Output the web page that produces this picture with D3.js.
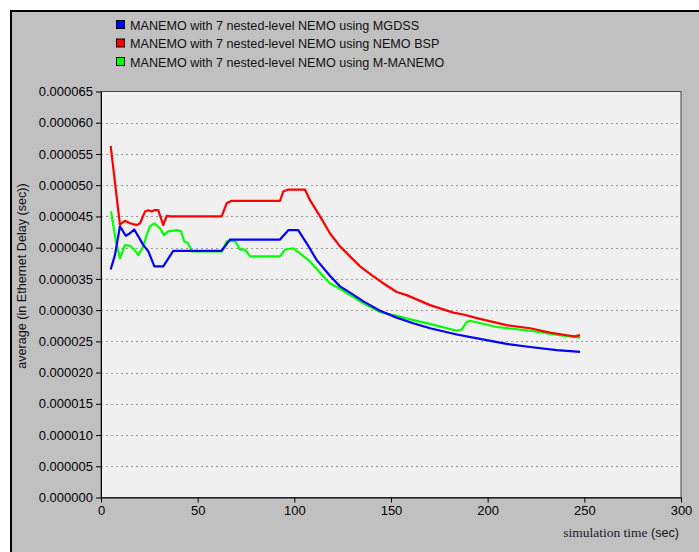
<!DOCTYPE html>
<html>
<head>
<meta charset="utf-8">
<script src="https://cdn.jsdelivr.net/npm/d3@7"></script>
<style>
  body { margin: 0; background: #ffffff; }
  svg { display: block; font-family: "Liberation Sans", Arial, sans-serif; }
</style>
</head>
<body>
<svg id="chart" width="699" height="552"></svg>
<script>
// series labels
const seriesNames = [
    'MANEMO with 7 nested-level NEMO using MGDSS',
    'MANEMO with 7 nested-level NEMO using NEMO BSP',
    'MANEMO with 7 nested-level NEMO using M-MANEMO'
];
const seriesColors = ['#0000ff', '#ff0000', '#00ff00'];

// simulation time (sec) and average delay (microseconds)
const mgdssTime = [5, 7.2, 9.8, 12.8, 15, 17.2, 19.3, 21.9, 24.5, 27.6, 32.2, 37.4, 62.4, 66.7, 92.6, 96.9, 102, 106.4, 111.6, 118.4, 123.6, 128.8, 135.7, 144.3, 152.9, 161.5, 170.2, 184, 196, 209.8, 221.9, 235.7, 247.8];
const mgdssDelay = [36.5, 38.8, 43.4, 41.9, 42.3, 42.9, 41.8, 40.4, 39.4, 37.0, 37.0, 39.5, 39.5, 41.3, 41.3, 42.8, 42.8, 40.7, 38.0, 35.5, 33.8, 32.8, 31.4, 29.9, 28.8, 27.9, 27.1, 26.1, 25.4, 24.6, 24.1, 23.6, 23.3];

const bspTime = [5, 9.8, 12.4, 15, 18.5, 20.2, 22.8, 24.5, 26.2, 27.6, 29.6, 32.2, 34, 35.7, 62.4, 65, 67.6, 92.6, 94.3, 96.9, 105.5, 108.1, 113.3, 118.4, 123.6, 128.8, 134, 140, 146, 152.9, 158.1, 170.2, 182.2, 187.4, 196, 209.8, 221.9, 232.2, 242.6, 245, 247.8];
const bspDelay = [56.3, 43.7, 44.3, 43.9, 43.6, 43.9, 45.8, 46.0, 45.8, 46.0, 46.0, 43.6, 45.1, 45.0, 45.0, 47.1, 47.5, 47.5, 49.0, 49.3, 49.3, 47.6, 45.0, 42.3, 40.2, 38.6, 37.0, 35.6, 34.3, 32.9, 32.4, 30.8, 29.6, 29.3, 28.6, 27.6, 27.1, 26.4, 25.9, 25.8, 26.0];

const mmanemoTime = [5.2, 7.6, 9.8, 12.4, 15, 17.2, 19.3, 21.9, 23.6, 25.3, 27.6, 30.5, 32.6, 34.8, 39.1, 41.4, 43.1, 44.8, 47.2, 62.4, 65, 69.3, 71.9, 74.5, 77.1, 92.6, 95.2, 99.5, 102.9, 108.1, 115.9, 118.4, 125.3, 135.7, 144.3, 152.9, 161.5, 170.2, 184, 186.6, 189.2, 190.9, 204.7, 221.9, 239.1, 247.8];
const mmanemoDelay = [45.8, 41.2, 38.3, 40.4, 40.3, 39.7, 38.8, 40.2, 42.0, 43.4, 43.9, 43.1, 42.0, 42.6, 42.8, 42.6, 41.0, 40.8, 39.4, 39.4, 41.0, 41.1, 39.7, 39.7, 38.6, 38.6, 39.7, 39.9, 39.1, 37.8, 35.1, 34.3, 33.1, 31.1, 29.7, 29.1, 28.4, 27.8, 26.7, 26.9, 28.1, 28.3, 27.3, 26.7, 25.9, 25.6];

// axis ticks
const xTicks = [0, 50, 100, 150, 200, 250, 300];
const yTicks = [0, 0.000005, 0.00001, 0.000015, 0.00002, 0.000025, 0.00003, 0.000035, 0.00004, 0.000045, 0.00005, 0.000055, 0.00006, 0.000065];

const MARGIN = {top: 91.5, right: 18, bottom: 54.5, left: 101};
const WIDTH = 699;
const HEIGHT = 552;

const svg = d3.select('#chart');

// outer panel
svg.append('rect')
    .attr('x', 11).attr('y', 11)
    .attr('width', 700).attr('height', 560)
    .attr('fill', '#c0c0c0')
    .attr('stroke', '#000')
    .attr('stroke-width', 2);

const xScale = d3.scaleLinear()
    .domain([0, 300])
    .range([MARGIN.left, WIDTH - MARGIN.right]);

const yScale = d3.scaleLinear()
    .domain([0, 0.000065])
    .range([HEIGHT - MARGIN.bottom, MARGIN.top]);

// plot background
svg.append('rect')
    .attr('x', xScale(0)).attr('y', yScale(0.000065))
    .attr('width', xScale(300) - xScale(0))
    .attr('height', yScale(0) - yScale(0.000065))
    .attr('fill', '#f0f0f0')
    .attr('stroke', '#444')
    .attr('stroke-width', 1);

// dotted grid
svg.append('g')
    .selectAll('line')
    .data(yTicks.slice(1, -1))
    .join('line')
    .attr('x1', xScale(0)).attr('x2', xScale(300))
    .attr('y1', d => Math.round(yScale(d)) + 0.5)
    .attr('y2', d => Math.round(yScale(d)) + 0.5)
    .attr('stroke', '#999')
    .attr('stroke-dasharray', '2,3');

// y axis
const yAxis = d3.axisLeft(yScale)
    .tickValues(yTicks)
    .tickFormat(d => d.toFixed(6))
    .tickSizeInner(5).tickSizeOuter(0).tickPadding(3);
const yAxisG = svg.append('g')
    .attr('transform', `translate(${xScale(0)},0)`)
    .call(yAxis);

// x axis
const xAxis = d3.axisBottom(xScale)
    .tickValues(xTicks)
    .tickSizeInner(5).tickSizeOuter(0).tickPadding(3);
const xAxisG = svg.append('g')
    .attr('transform', `translate(0,${yScale(0)})`)
    .call(xAxis);

[yAxisG, xAxisG].forEach(g => {
    g.selectAll('text').attr('font-size', 13).attr('fill', '#000')
        .attr('font-family', '"Liberation Sans", Arial, sans-serif');
    g.selectAll('line, path').attr('stroke', '#000');
});

// lines
const line = d3.line()
    .x(d => xScale(d[0]))
    .y(d => yScale(d[1] * 1e-6));

const series = [
    {time: mgdssTime, delay: mgdssDelay, color: seriesColors[0]},
    {time: bspTime, delay: bspDelay, color: seriesColors[1]},
    {time: mmanemoTime, delay: mmanemoDelay, color: seriesColors[2]}
];
const drawOrder = [2, 1, 0];

svg.append('g')
    .selectAll('path')
    .data(drawOrder.map(i => series[i]))
    .join('path')
    .attr('d', s => line(s.time.map((t, j) => [t, s.delay[j]])))
    .attr('fill', 'none')
    .attr('stroke', s => s.color)
    .attr('stroke-width', 2.2)
    .attr('stroke-linejoin', 'round');

// legend
const legend = svg.append('g')
    .selectAll('g')
    .data(seriesNames)
    .join('g')
    .attr('transform', (d, i) => `translate(116,${20 + i * 18.5})`);
legend.append('rect')
    .attr('x', 0.5).attr('y', 0.5)
    .attr('width', 8).attr('height', 8)
    .attr('fill', (d, i) => seriesColors[i])
    .attr('stroke', '#000');
legend.append('text')
    .attr('x', 14).attr('y', 9.5)
    .attr('font-size', 12.6)
    .attr('fill', '#111')
    .text(d => d);

// axis titles
svg.append('text')
    .attr('transform', `translate(26,276) rotate(-90)`)
    .attr('text-anchor', 'middle')
    .attr('font-size', 12.6)
    .attr('fill', '#111')
    .text('average (in Ethernet Delay (sec))');

const xTitle = svg.append('text')
    .attr('x', 679).attr('y', 537)
    .attr('text-anchor', 'end')
    .attr('font-size', 12.6);
xTitle.append('tspan')
    .attr('font-family', '"Liberation Serif", "Times New Roman", serif')
    .attr('font-size', 13.5)
    .attr('fill', '#1a1a2a')
    .text('simulation time');
xTitle.append('tspan')
    .attr('fill', '#111')
    .text(' (sec)');
</script>
</body>
</html>
